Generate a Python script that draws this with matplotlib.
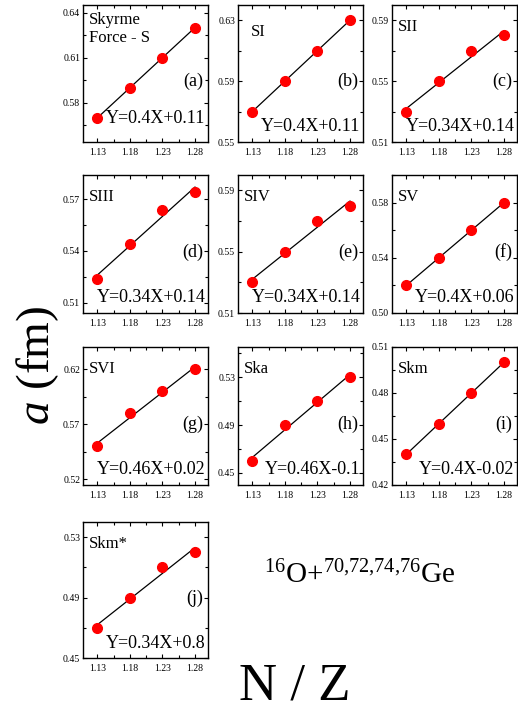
import numpy as np
import matplotlib
matplotlib.use('Agg')
import matplotlib.pyplot as plt
from matplotlib.ticker import AutoMinorLocator

plt.rcParams['font.family'] = ['Liberation Serif', 'DejaVu Serif']
plt.rcParams['mathtext.fontset'] = 'custom'
plt.rcParams['mathtext.rm'] = 'Liberation Serif'
plt.rcParams['mathtext.it'] = 'Liberation Serif:italic'

# N/Z of the four Ge isotopes
nz = [1.13, 1.18, 1.23, 1.28]

names = ['Skyrme\nForce - S', 'SI', 'SII', 'SIII', 'SIV', 'SV', 'SVI', 'Ska', 'Skm', 'Skm*']
letters = ['(a)', '(b)', '(c)', '(d)', '(e)', '(f)', '(g)', '(h)', '(i)', '(j)']
equations = ['Y=0.4X+0.11', 'Y=0.4X+0.11', 'Y=0.34X+0.14', 'Y=0.34X+0.14', 'Y=0.34X+0.14',
             'Y=0.4X+0.06', 'Y=0.46X+0.02', 'Y=0.46X-0.1', 'Y=0.4X-0.02', 'Y=0.34X+0.8']

a_skyrme_s = [0.570, 0.590, 0.610, 0.630]
a_si = [0.570, 0.590, 0.610, 0.630]
a_sii = [0.530, 0.550, 0.570, 0.580]
a_siii = [0.524, 0.544, 0.564, 0.574]
a_siv = [0.530, 0.550, 0.570, 0.580]
a_sv = [0.520, 0.540, 0.560, 0.580]
a_svi = [0.550, 0.580, 0.600, 0.620]
a_ska = [0.460, 0.490, 0.510, 0.530]
a_skm = [0.440, 0.460, 0.480, 0.500]
a_skm_star = [0.470, 0.490, 0.510, 0.520]
a_all = [a_skyrme_s, a_si, a_sii, a_siii, a_siv, a_sv, a_svi, a_ska, a_skm, a_skm_star]

yticks = [[0.58, 0.61, 0.64], [0.55, 0.59, 0.63], [0.51, 0.55, 0.59],
          [0.51, 0.54, 0.57], [0.51, 0.55, 0.59], [0.50, 0.54, 0.58],
          [0.52, 0.57, 0.62], [0.45, 0.49, 0.53], [0.42, 0.45, 0.48, 0.51],
          [0.45, 0.49, 0.53]]
ylims = [(0.554, 0.645), (0.55, 0.64), (0.51, 0.60), (0.504, 0.584), (0.51, 0.60),
         (0.50, 0.60), (0.515, 0.64), (0.44, 0.555), (0.42, 0.51), (0.45, 0.54)]

W, H = 518, 715
col_x = [83, 238, 392]
row_y = [(5, 142), (175, 313), (347, 485), (522, 658)]
pw = 125

fig = plt.figure(figsize=(W / 100, H / 100), dpi=100)

for i in range(10):
    r, c = divmod(i, 3)
    top, bot = row_y[r]
    ax = fig.add_axes([col_x[c] / W, 1 - bot / H, pw / W, (bot - top) / H])
    y = a_all[i]
    k, b = np.polyfit(nz, y, 1)
    xs = np.array([nz[0], nz[-1]])
    ax.plot(xs, k * xs + b, color='black', lw=0.9, zorder=2)
    ax.plot(nz, y, 'o', color='#ff0000', ms=7, mec='#ff0000', zorder=3)
    ax.set_xlim(1.108, 1.30)
    ax.set_ylim(*ylims[i])
    ax.set_xticks(nz)
    ax.set_xticklabels(['%.2f' % v for v in nz])
    ax.set_yticks(yticks[i])
    ax.set_yticklabels(['%.2f' % v for v in yticks[i]])
    ax.xaxis.set_minor_locator(AutoMinorLocator(2))
    ax.yaxis.set_minor_locator(AutoMinorLocator(2))
    ax.tick_params(which='both', direction='in', top=True, right=True, labelsize=7)
    ax.tick_params(axis='x', pad=4)
    ax.tick_params(axis='y', pad=2)
    ax.tick_params(which='major', length=3, width=0.8)
    ax.tick_params(which='minor', length=2, width=0.8)
    for s in ax.spines.values():
        s.set_linewidth(1.0)

    if i == 0:
        ax.text(0.05, 0.95, names[i], transform=ax.transAxes, ha='left', va='top',
                fontsize=12, linespacing=1.2)
    elif i == 1:
        ax.text(0.1, 0.80, names[i], transform=ax.transAxes, ha='left', va='center', fontsize=12)
    else:
        ax.text(0.05, 0.84, names[i], transform=ax.transAxes, ha='left', va='center', fontsize=12)
    ax.text(0.96, 0.44, letters[i], transform=ax.transAxes, ha='right', va='center', fontsize=13)
    ey = 0.175 if i == 0 else 0.11
    ax.text(0.98, ey, equations[i], transform=ax.transAxes, ha='right', va='center', fontsize=13)

fig.text(38 / W, 1 - 365 / H, r'$\mathit{a}$ (fm)', rotation=90, ha='center', va='center',
         fontsize=34)
fig.text(295 / W, 1 - 686 / H, 'N / Z', ha='center', va='center', fontsize=38)
fig.text(360 / W, 1 - 575 / H, r'$^{16}$O+$^{70{,}72{,}74{,}76}$Ge', ha='center', va='center',
         fontsize=21)

fig.savefig('out.png', dpi=100)
